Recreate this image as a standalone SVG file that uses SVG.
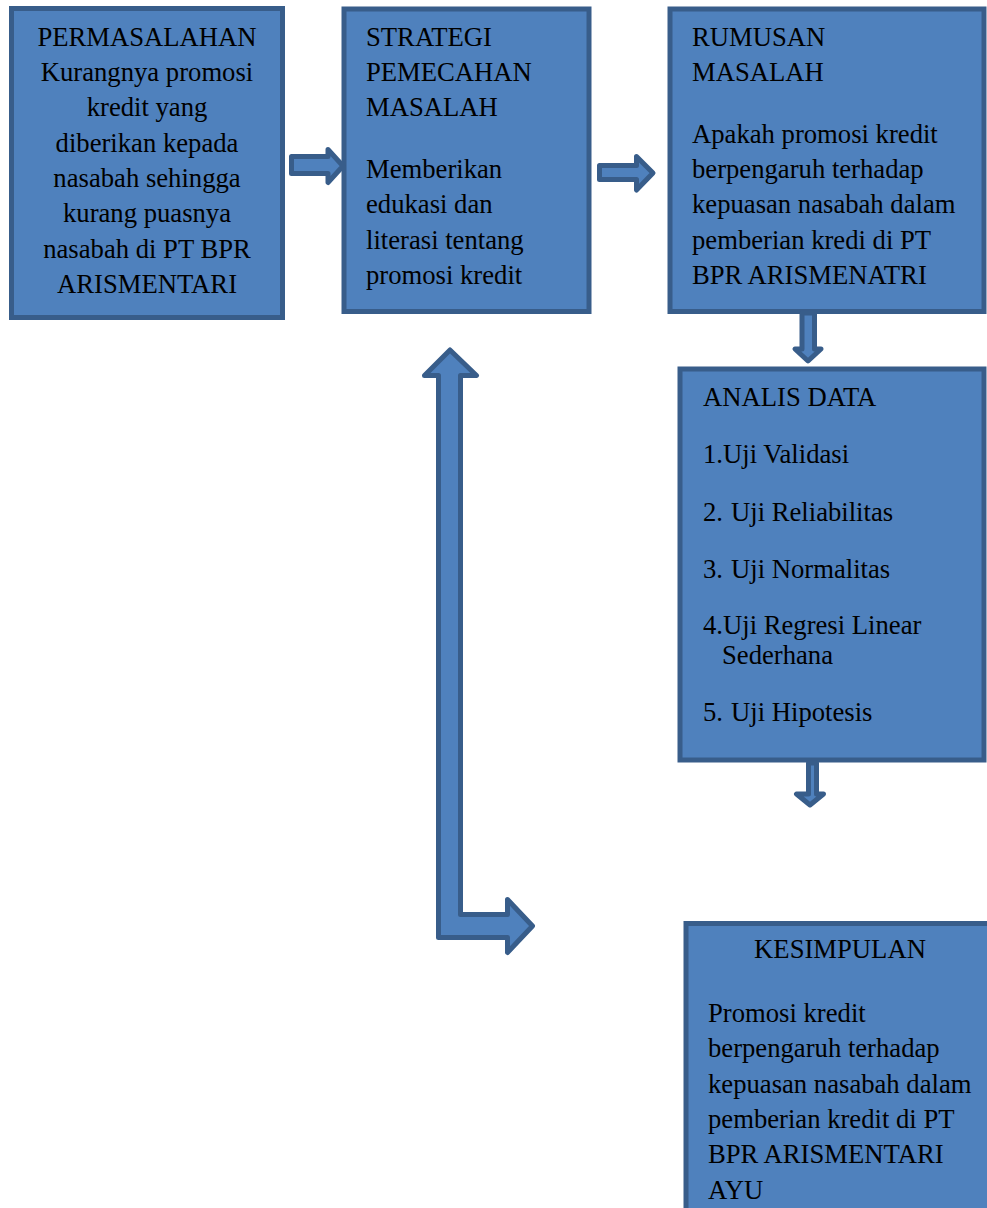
<svg xmlns="http://www.w3.org/2000/svg" width="987" height="1208" viewBox="0 0 987 1208">
<defs>
<style>
.box{fill:#4F81BD;stroke:#385D8A;stroke-width:5}
.arr{fill:#4F81BD;stroke:#385D8A;stroke-width:5;stroke-linejoin:round}
text{font-family:"Liberation Serif","Times New Roman",serif;font-size:26.67px;fill:#000}
.c{text-anchor:middle}
</style>
</defs>
<rect width="987" height="1208" fill="#fff"/>
<g id="permasalahan">
<rect class="box" x="11.5" y="8.5" width="271" height="309"/>
<text class="c" x="147" y="45.5">PERMASALAHAN</text>
<text class="c" x="147" y="81">Kurangnya promosi</text>
<text class="c" x="147" y="116.3">kredit yang</text>
<text class="c" x="147" y="151.7">diberikan kepada</text>
<text class="c" x="147" y="187">nasabah sehingga</text>
<text class="c" x="147" y="222.4">kurang puasnya</text>
<text class="c" x="147" y="257.8">nasabah di PT BPR</text>
<text class="c" x="147" y="293.2">ARISMENTARI</text>
</g>
<g id="strategi">
<rect class="box" x="344" y="9" width="245" height="302.5"/>
<text x="366" y="45.5">STRATEGI</text>
<text x="366" y="81">PEMECAHAN</text>
<text x="366" y="116">MASALAH</text>
<text x="366" y="177.7">Memberikan</text>
<text x="366" y="213">edukasi dan</text>
<text x="366" y="248.5">literasi tentang</text>
<text x="366" y="284">promosi kredit</text>
</g>
<g id="rumusan">
<rect class="box" x="670" y="9" width="314" height="302.5"/>
<text x="692" y="45.5">RUMUSAN</text>
<text x="692" y="81">MASALAH</text>
<text x="692" y="142.7">Apakah promosi kredit</text>
<text x="692" y="178">berpengaruh terhadap</text>
<text x="692" y="213.3">kepuasan nasabah dalam</text>
<text x="692" y="248.6">pemberian kredi di PT</text>
<text x="692" y="284">BPR ARISMENATRI</text>
</g>
<g id="analis">
<rect class="box" x="680" y="369" width="304" height="391"/>
<text x="703" y="406">ANALIS DATA</text>
<text x="703" y="463.3">1.</text><text x="723" y="463.3">Uji Validasi</text>
<text x="703" y="521">2.</text><text x="731" y="521">Uji Reliabilitas</text>
<text x="703" y="577.5">3.</text><text x="731" y="577.5">Uji Normalitas</text>
<text x="703" y="634">4.</text><text x="723" y="634">Uji Regresi Linear</text>
<text x="722" y="664">Sederhana</text>
<text x="703" y="721">5.</text><text x="731" y="721">Uji Hipotesis</text>
</g>
<g id="kesimpulan">
<rect class="box" x="686" y="923.5" width="320" height="300"/>
<text class="c" x="840" y="958">KESIMPULAN</text>
<text x="708" y="1022">Promosi kredit</text>
<text x="708" y="1057.3">berpengaruh terhadap</text>
<text x="708" y="1092.6">kepuasan nasabah dalam</text>
<text x="708" y="1128">pemberian kredit di PT</text>
<text x="708" y="1163.3">BPR ARISMENTARI</text>
<text x="708" y="1198.6">AYU</text>
</g>
<g id="connectors">
<polygon class="arr" points="291.5,156.5 328,156.5 328,149.5 343,166 328,182.5 328,173.5 291.5,173.5"/>
<polygon class="arr" points="599.5,165.5 636.5,165.5 636.5,156.5 653,173 636.5,190 636.5,179.5 599.5,179.5"/>
<polygon class="arr" points="802,313 814.5,313 814.5,349 821,349 808,361 795,349 802,349"/>
<polygon class="arr" points="808.5,763 816.5,763 816.5,794 823.5,794 810,805 796.5,794 808.5,794"/>
<polygon class="arr" points="450,350 476.5,375.5 460.5,375.5 460.5,914.5 507.5,914.5 507.5,899.5 532.5,926 507.5,952.5 507.5,937.5 438.5,937.5 438.5,375.5 424.5,375.5"/>
</g>
</svg>
